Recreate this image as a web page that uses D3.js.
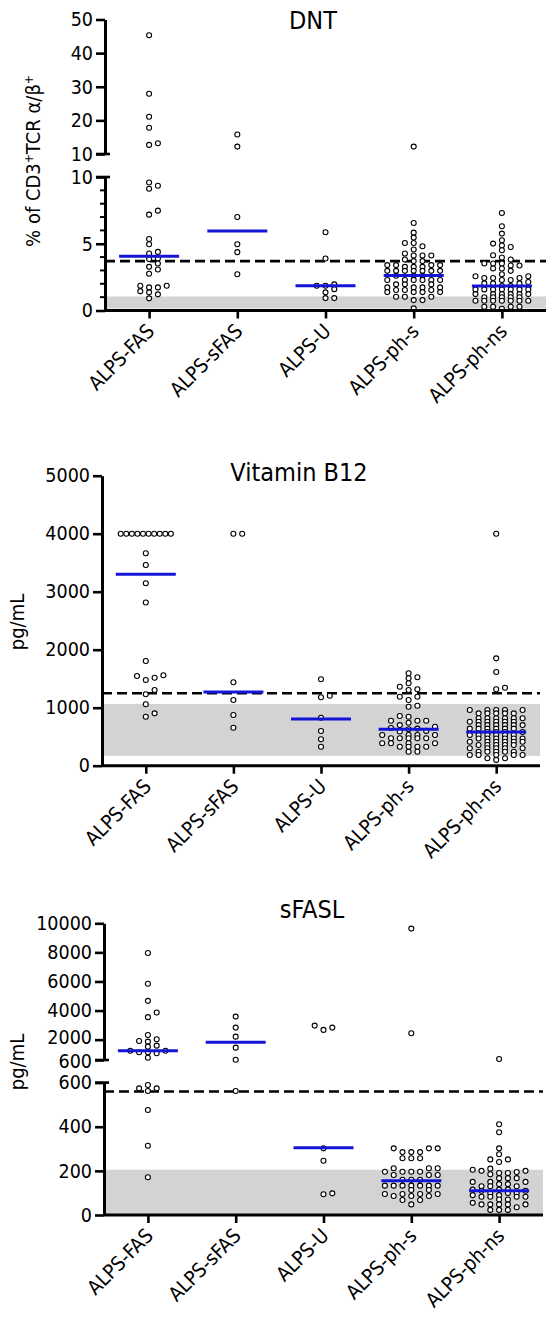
<!DOCTYPE html>
<html><head><meta charset="utf-8">
<script src="https://cdn.jsdelivr.net/npm/d3@7"></script>
<style>
body{margin:0;background:#fff;}
svg{display:block;}
text{font-family:'Liberation Sans Narrow','Arial Narrow','DejaVu Sans Condensed',sans-serif;fill:#000;}
</style>
</head><body>
<svg id="c" width="557" height="1328"></svg>
<script>
const categories = ["ALPS-FAS","ALPS-sFAS","ALPS-U","ALPS-ph-s","ALPS-ph-ns"];

// ---- DNT ----
const dntValues = [
  [45.3,27.9,21.1,17.8,13.2,12.7,9.59,9.34,9.12,7.48,7.18,5.36,4.96,4.39,4.27,3.9,3.85,3.52,3.27,3.07,2.75,1.85,1.85,1.73,1.73,1.45,1.36,1.21,0.91],
  [15.8,12.2,7.0,4.96,4.37,2.72],
  [5.86,3.9,1.96,1.85,1.85,1.6,1.36,0.93,0.93],
  [12.2,6.55,5.83,5.46,5.06,5.06,4.81,4.57,4.27,4.12,4.12,4.12,3.82,3.7,3.7,3.4,3.4,3.4,3.4,3.27,3.27,3.27,2.97,2.97,2.97,2.97,2.97,2.97,2.97,2.6,2.6,2.6,2.28,2.28,2.28,2.28,2.28,2.28,1.96,1.96,1.96,1.73,1.73,1.73,1.73,1.53,1.53,1.53,1.38,1.38,1.38,1.38,1.03,1.03,1.03,0.78,0.78,0.16],
  [7.3,6.31,5.76,5.26,5.01,4.87,4.76,4.51,4.14,3.97,3.82,3.52,3.52,3.52,3.37,3.37,3.15,3.15,2.97,2.72,2.57,2.57,2.43,2.43,2.43,2.28,2.28,2.13,2.03,2.03,2.03,1.83,1.83,1.58,1.58,1.58,1.58,1.58,1.58,1.58,1.23,1.23,1.23,1.23,1.23,1.23,0.99,0.99,0.99,0.99,0.99,0.73,0.73,0.73,0.73,0.73,0.73,0.73,0.28,0.28,0.28,0.28,0.13]
];
const dntMedians = [4.07,5.96,1.85,2.63,1.83];
const dntCutoff = 3.7;
const dntNormal = [0.15,1.05];
const dntLowerTicks = [0,5,10];
const dntMinorTicks = [0,1,2,3,4,5,6,7,8,9,10];
const dntUpperTicks = [10,20,30,40,50];

// ---- Vitamin B12 ----
const b12Values = [
  [4000,4000,4000,4000,4000,4000,4000,4000,4000,4000,3662,3460,3145,2815,1805,1559,1547,1517,1478,1305,1231,1059,903,845],
  [4000,4000,1438,1133,874,655],
  [1490,1207,1179,828,598,455,328],
  [1593,1524,1507,1421,1362,1317,1305,1190,1190,1133,1034,1017,857,845,776,776,776,741,700,672,650,640,628,600,590,529,529,529,529,472,472,472,472,472,386,386,386,386,328,328,328,328,241,241],
  [4000,1851,1615,1345,1317,960,960,960,960,960,903,903,903,903,903,817,817,817,817,817,817,759,759,759,759,759,759,700,700,700,700,700,700,640,640,640,640,640,640,581,581,581,581,530,530,530,530,530,530,470,470,470,470,470,470,414,414,414,414,414,414,358,358,358,358,358,300,300,300,300,300,241,241,241,241,241,184,184,184,184,184,128,128,100]
];
const b12Medians = [3300,1270,805,628,581];
const b12Cutoff = 1250;
const b12Normal = [170,1065];
const b12Ticks = [0,1000,2000,3000,4000,5000];

// ---- sFASL ----
const sfaslValues = [
  [7960,5841,4669,3862,3545,2324,2028,1910,1862,1586,1517,1241,1241,1131,1131,1062,759,589,574,574,562,476,314,171],
  [3586,2828,2207,1448,620,562],
  [2966,2828,2669,302,246,98,94],
  [9634,2441,302,302,302,285,285,285,257,257,257,212,212,212,196,196,196,196,181,181,181,160,160,160,133,133,133,133,133,133,133,113,113,95,95,95,95,86,86,86,68,68,48],
  [670,411,375,302,275,252,252,240,210,205,200,200,195,190,190,185,167,167,167,150,150,150,140,140,130,130,130,115,115,115,110,110,100,100,100,90,90,83,83,83,83,70,70,55,48,48,48,48,48,35,23,23,23]
];
const sfaslMedians = [1241,1821,305,155,110];
const sfaslCutoff = 560;
const sfaslNormal = [3,205];
const sfaslLowerTicks = [0,200,400,600];
const sfaslUpperTicks = [600,2000,4000,6000,8000,10000];

// ---------- drawing ----------
const svg = d3.select("#c");
const BLUE = "#1414d8";

const panels = [
  { title:"DNT", titleX:313, titleY:29, values:dntValues, medians:dntMedians, cutoff:dntCutoff, normal:dntNormal,
    xRange:[105,546], axisY:310.5, yAxisLabel:"dnt", labelPos:[40,161], nudge:false,
    segs:[ {domain:[0,10], range:[310.5,177], ticks:dntLowerTicks, minor:dntMinorTicks},
           {domain:[10,50], range:[154,19.5], ticks:dntUpperTicks} ] },
  { title:"Vitamin B12", titleX:299, titleY:481, values:b12Values, medians:b12Medians, cutoff:b12Cutoff, normal:b12Normal,
    xRange:[102,540], axisY:765.7, yAxisLabel:"pg/mL", labelPos:[24,622], nudge:false,
    segs:[ {domain:[0,5000], range:[765.7,475.7], ticks:b12Ticks} ] },
  { title:"sFASL", titleX:312, titleY:918, values:sfaslValues, medians:sfaslMedians, cutoff:sfaslCutoff, normal:sfaslNormal,
    xRange:[104,543], axisY:1215, yAxisLabel:"pg/mL", labelPos:[24,1062], nudge:true,
    segs:[ {domain:[0,600], range:[1215,1082.6], ticks:sfaslLowerTicks},
           {domain:[600,10000], range:[1060,923.3], ticks:sfaslUpperTicks} ] }
];

function swarm(ys, step, gap, maxK){
  const off = new Array(ys.length).fill(0);
  const counts = d3.rollup(ys, v=>v.length, y=>y);
  const placed = new Map();
  const order = ys.map((y,i)=>i).sort((a,b)=>ys[b]-ys[a]);
  const ks = [0];
  for(let k=1;k<=maxK;k++){ ks.push(k,-k); }
  const seen = new Map();
  order.forEach(i=>{
    const y = ys[i];
    const n = counts.get(y);
    if(n > 2*maxK+1){
      const j = seen.get(y)||0; seen.set(y,j+1);
      const sp = (2*maxK*step*0.95)/(n-1);
      off[i] = (j-(n-1)/2)*sp;
      return;
    }
    let best=null, bestD=-1;
    for(const k of ks){
      const col = placed.get(k)||[];
      const d = col.length? d3.min(col, c=>Math.abs(c-y)) : Infinity;
      if(d>=gap){ best=k; bestD=d; break; }
      if(d>bestD+0.01){ bestD=d; best=k; }
    }
    if(!placed.has(best)) placed.set(best,[]);
    placed.get(best).push(y);
    off[i] = best*step;
  });
  return off;
}

panels.forEach(p=>{
  const g = svg.append("g");
  const x = d3.scalePoint().domain(categories).range(p.xRange).padding(0.5);
  const scales = p.segs.map(s=>d3.scaleLinear().domain(s.domain).range(s.range));
  const yPix = v => {
    for(let i=0;i<p.segs.length;i++){
      const s=p.segs[i];
      if(v<=s.domain[1] || i===p.segs.length-1) return scales[i](v);
    }
  };
  const low = scales[0];

  g.append("rect")
    .attr("x", p.xRange[0]).attr("width", p.xRange[1]-p.xRange[0])
    .attr("y", low(p.normal[1])).attr("height", low(p.normal[0])-low(p.normal[1]))
    .attr("fill","#d3d3d3");

  g.append("line")
    .attr("x1", p.xRange[0]).attr("x2", p.xRange[1])
    .attr("y1", low(p.cutoff)).attr("y2", low(p.cutoff))
    .attr("stroke","#000").attr("stroke-width",2.6).attr("stroke-dasharray","10,5");

  p.values.forEach((vals,ci)=>{
    const ys = vals.map(yPix);
    const offs = swarm(ys, 8.8, 4.8, 3);
    g.append("g").selectAll("circle").data(vals).join("circle")
      .attr("cx",(d,i)=>x(categories[ci])+offs[i])
      .attr("cy",(d,i)=>ys[i])
      .attr("r",2.5)
      .attr("fill","#fff").attr("stroke","#000").attr("stroke-width",1.1);
  });

  g.append("g").selectAll("line").data(p.medians).join("line")
    .attr("x1",(d,i)=>x(categories[i])-30).attr("x2",(d,i)=>x(categories[i])+30)
    .attr("y1",d=>yPix(d)).attr("y2",d=>yPix(d))
    .attr("stroke",BLUE).attr("stroke-width",3);

  p.segs.forEach((s,si)=>{
    const ax = d3.axisLeft(scales[si]).tickValues(s.ticks).tickSize(9).tickSizeOuter(0).tickPadding(3).tickFormat(d3.format("d"));
    const ag = g.append("g").attr("transform",`translate(${p.xRange[0]},0)`).call(ax);
    ag.select(".domain").attr("stroke","#000").attr("stroke-width",3);
    ag.selectAll(".tick line").attr("stroke","#000").attr("stroke-width",2.6);
    ag.selectAll(".tick text").attr("font-size",19.5);
    if(p.nudge && si===1){
      ag.selectAll(".tick text").filter(d=>d===s.ticks[1]).attr("dy","0.18em");
      ag.selectAll(".tick text").filter(d=>d===s.ticks[0]).attr("dy","0.38em");
    }
    if(s.minor){
      ag.selectAll(".minor").data(s.minor.filter(t=>!s.ticks.includes(t))).join("line")
        .attr("class","minor").attr("x1",-5).attr("x2",0)
        .attr("y1",d=>scales[si](d)).attr("y2",d=>scales[si](d))
        .attr("stroke","#000").attr("stroke-width",2);
    }
    if(p.segs.length>1){
      const yb = si===0 ? scales[si](s.domain[1]) : scales[si](s.domain[0]);
      ag.append("line").attr("x1",-9).attr("x2",5).attr("y1",yb).attr("y2",yb)
        .attr("stroke","#000").attr("stroke-width",2.6);
    }
  });

  const xa = d3.axisBottom(x).tickSize(8).tickSizeOuter(0).tickPadding(6);
  const xg = g.append("g").attr("transform",`translate(0,${p.axisY})`).call(xa);
  xg.select(".domain").attr("stroke","#000").attr("stroke-width",3)
    .attr("d",`M${p.xRange[0]},0H${p.xRange[1]}`);
  xg.selectAll(".tick line").attr("stroke","#000").attr("stroke-width",2.6);
  xg.selectAll(".tick text").attr("font-size",20)
    .attr("text-anchor","end").attr("dy",null).attr("y",0)
    .attr("transform","translate(6,22) rotate(-45)");

  g.append("text").attr("x",p.titleX).attr("y",p.titleY).attr("text-anchor","middle")
    .attr("font-size",25).text(p.title);

  const yl = g.append("text").attr("transform",`translate(${p.labelPos[0]},${p.labelPos[1]}) rotate(-90)`)
    .attr("text-anchor","middle").attr("font-size",20);
  if(p.yAxisLabel==="dnt"){
    yl.append("tspan").text("% of CD3");
    yl.append("tspan").attr("baseline-shift","super").attr("font-size",12).text("+");
    yl.append("tspan").text("TCR α/β");
    yl.append("tspan").attr("baseline-shift","super").attr("font-size",12).text("+");
  } else {
    yl.text(p.yAxisLabel);
  }
});
</script>
</body></html>
